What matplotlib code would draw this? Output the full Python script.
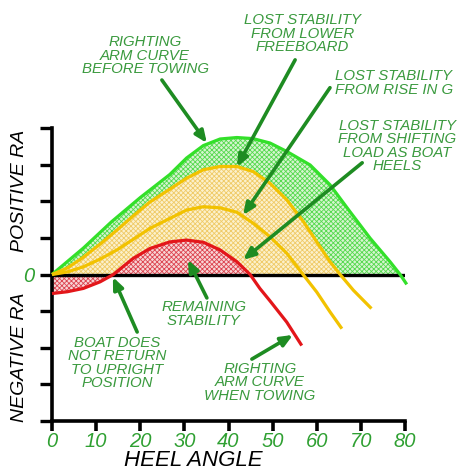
# righting arm curves: before towing vs. when towing

import numpy as np
import matplotlib.pyplot as plt

# righting arm curves (heel angle in degrees, RA units)
green_x = [0, 7.1, 13.5, 20.0, 26.7, 30.5, 34.3, 38.1, 41.9, 45.6, 49.4,
           53.2, 58.5, 63.0, 67.5, 72.1, 76.6, 78.9, 80.4]
green_y = [0, 0.72, 1.44, 2.1, 2.73, 3.18, 3.52, 3.7, 3.74, 3.71, 3.59,
           3.36, 2.99, 2.45, 1.72, 0.99, 0.35, 0, -0.27]

upper_x = [0, 3.5, 7.1, 10.9, 14.7, 18.4, 22.2, 26.7, 30.5, 34.3, 38.1, 41.9,
           45.6, 49.4, 53.2, 57.0, 60.0, 63.0, 65.3, 68.3, 72.4]
upper_y = [0, 0.18, 0.47, 0.83, 1.21, 1.6, 1.98, 2.33, 2.63, 2.86, 2.95, 2.95,
           2.81, 2.49, 2.04, 1.44, 0.89, 0.35, 0, -0.43, -0.93]

lower_x = [0, 3.5, 7.1, 10.9, 14.7, 18.4, 22.2, 26.7, 30.5, 34.3, 38.1, 41.9,
           45.6, 49.4, 53.2, 56.9, 60.0, 63.0, 65.7]
lower_y = [0, 0.07, 0.21, 0.42, 0.67, 0.96, 1.26, 1.53, 1.76, 1.85, 1.82, 1.7,
           1.4, 1.03, 0.58, 0, -0.48, -1.02, -1.48]

red_x = [0, 3.5, 7.1, 10.9, 13.9, 18.4, 22.2, 26.7, 30.5, 34.3, 38.1, 41.9,
         44.9, 47.1, 49.4, 53.2, 56.6]
red_y = [-0.52, -0.47, -0.38, -0.2, 0, 0.44, 0.71, 0.89, 0.94, 0.88, 0.67, 0.35,
         0, -0.38, -0.72, -1.3, -1.94]

x_ticks = [0, 10, 20, 30, 40, 50, 60, 70, 80]
y_ticks = [-4, -3, -2, -1, 0, 1, 2, 3, 4]

GREEN = '#33e02a'
YELLOW = '#f2c200'
RED = '#e3161a'
TXT = '#3a9a3e'
ARROW = '#1e8c22'

plt.rcParams['font.family'] = ['Liberation Sans', 'DejaVu Sans']
plt.rcParams['hatch.linewidth'] = 0.6

fig = plt.figure(figsize=(4.58, 4.71), dpi=100)
ax = fig.add_axes([52 / 458, 50 / 471, 353 / 458, 293 / 471])

gx, gy = np.array(green_x), np.array(green_y)
ux, uy = np.array(upper_x), np.array(upper_y)
rx, ry = np.array(red_x), np.array(red_y)

# hatched areas: green on the bottom, yellow over it, red on top
ax.fill_between(gx, gy, 0, where=gy >= 0, interpolate=True,
                facecolor='#d6f5d0', edgecolor='#55d94e', hatch='x' * 7, lw=0)
ax.fill_between(ux, uy, 0, where=uy >= 0, interpolate=True,
                facecolor='#fcf1cc', edgecolor='#efca66', hatch='x' * 7, lw=0)
red_end = rx[ry == 0].max()
ax.fill_between(rx, ry, 0, where=rx <= red_end, interpolate=True,
                facecolor='#f8d6d6', edgecolor='#dc4450', hatch='x' * 7, lw=0)

ax.axhline(0, color='black', lw=2.4, zorder=3)

for xs, ys, c in [(green_x, green_y, GREEN), (upper_x, upper_y, YELLOW),
                  (lower_x, lower_y, YELLOW), (red_x, red_y, RED)]:
    ax.plot(xs, ys, color=c, lw=2.3, solid_joinstyle='round',
            solid_capstyle='butt', clip_on=False, zorder=4)

ax.set_xlim(0, 80)
ax.set_ylim(-4, 4)
for s in ['top', 'right']:
    ax.spines[s].set_visible(False)
for s in ['left', 'bottom']:
    ax.spines[s].set_linewidth(2.6)
ax.set_xticks(x_ticks)
ax.set_xticklabels([str(t) for t in x_ticks], color='#2fa032', style='italic',
                   fontsize=14.5)
ax.set_yticks(y_ticks)
ax.set_yticklabels(['0' if t == 0 else '' for t in y_ticks], color='#2fa032',
                   style='italic', fontsize=14.5)
ax.tick_params(axis='x', length=7, width=2.6, pad=1)
ax.tick_params(axis='y', length=9, width=2.4, pad=4)
ax.set_facecolor('none')

fig.text(20 / 458, 1 - 191 / 471, 'POSITIVE RA', rotation=90, style='italic',
         fontsize=14, ha='center', va='center')
fig.text(20 / 458, 1 - 357 / 471, 'NEGATIVE RA', rotation=90, style='italic',
         fontsize=14, ha='center', va='center')
fig.text(193 / 458, 1 - 461 / 471, 'HEEL ANGLE', style='italic', fontsize=16,
         ha='center', va='center')

# labels and arrows (text position, arrow tail, arrow head)
notes = [
    ('RIGHTING\nARM CURVE\nBEFORE TOWING', (21.1, 5.97), (24.9, 5.31), (35.1, 3.59)),
    ('LOST STABILITY\nFROM LOWER\nFREEBOARD', (56.7, 6.57), (55.1, 5.86), (41.9, 2.94)),
    ('LOST STABILITY\nFROM RISE IN G', (77.5, 5.23), (63.0, 5.10), (43.3, 1.62)),
    ('LOST STABILITY\nFROM SHIFTING\nLOAD AS BOAT\nHEELS', (78.2, 3.51), (70.3, 3.05), (43.3, 0.40)),
    ('REMAINING\nSTABILITY', (34.4, -1.08), (35.1, -0.64), (30.8, 0.40)),
    ('BOAT DOES\nNOT RETURN\nTO UPRIGHT\nPOSITION', (14.7, -2.42), (19.3, -1.57), (13.8, -0.07)),
    ('RIGHTING\nARM CURVE\nWHEN TOWING', (47.1, -2.94), (45.3, -2.31), (54.6, -1.65)),
]
for label, pos, tail, head in notes:
    ax.text(pos[0], pos[1], label, color=TXT, style='italic', fontsize=10.8,
            ha='center', va='center', linespacing=0.95, clip_on=False)
    ax.annotate('', xy=head, xytext=tail, annotation_clip=False, zorder=6,
                arrowprops=dict(arrowstyle='-|>,head_length=0.7,head_width=0.3',
                                color=ARROW, lw=2.6, shrinkA=0, shrinkB=0))

fig.savefig('out.png', dpi=100)
